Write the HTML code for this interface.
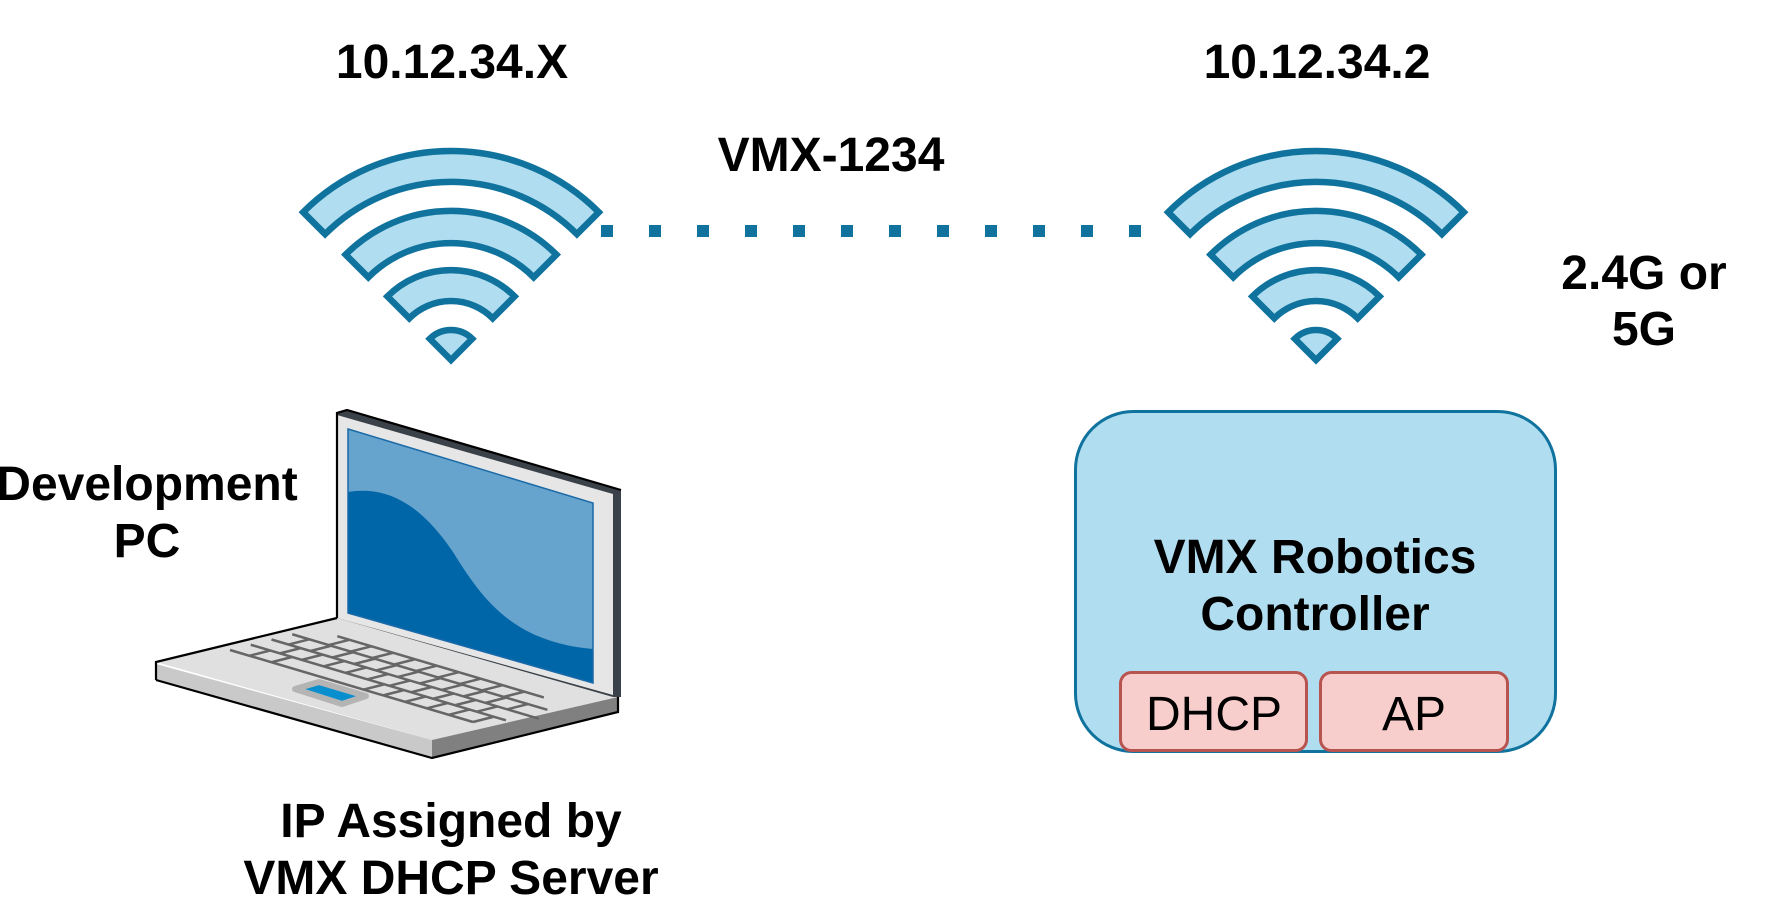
<!DOCTYPE html>
<html>
<head>
<meta charset="utf-8">
<style>
  html, body { margin: 0; padding: 0; background: #ffffff; }
  svg { display: block; }
  .t { font-family: "Liberation Sans", Arial, sans-serif; font-size: 48px; fill: #000; }
  .b { font-weight: bold; }
</style>
</head>
<body>
<svg width="1768" height="908" viewBox="0 0 1768 908" xmlns="http://www.w3.org/2000/svg">
  <rect x="0" y="0" width="1768" height="908" fill="#ffffff"/>

  <!-- Wifi icon (left) -->
  <g fill="#b1ddf0" stroke="#10739e" stroke-width="6.5" stroke-linejoin="miter">
    <path d="M 303.2 212.2 A 209 209 0 0 1 598.8 212.2 L 576.9 234.1 A 178 178 0 0 0 325.1 234.1 Z"/>
    <path d="M 345.6 254.6 A 149 149 0 0 1 556.4 254.6 L 533.7 277.3 A 117 117 0 0 0 368.3 277.3 Z"/>
    <path d="M 387.4 296.4 A 90 90 0 0 1 514.6 296.4 L 492.7 318.3 A 59 59 0 0 0 409.3 318.3 Z"/>
    <path d="M 451 360 L 429.8 338.8 A 30 30 0 0 1 472.2 338.8 Z"/>
  </g>
  <!-- Wifi icon (right) -->
  <g transform="translate(865,0)" fill="#b1ddf0" stroke="#10739e" stroke-width="6.5" stroke-linejoin="miter">
    <path d="M 303.2 212.2 A 209 209 0 0 1 598.8 212.2 L 576.9 234.1 A 178 178 0 0 0 325.1 234.1 Z"/>
    <path d="M 345.6 254.6 A 149 149 0 0 1 556.4 254.6 L 533.7 277.3 A 117 117 0 0 0 368.3 277.3 Z"/>
    <path d="M 387.4 296.4 A 90 90 0 0 1 514.6 296.4 L 492.7 318.3 A 59 59 0 0 0 409.3 318.3 Z"/>
    <path d="M 451 360 L 429.8 338.8 A 30 30 0 0 1 472.2 338.8 Z"/>
  </g>

  <!-- Dotted link -->
  <g fill="#10739e">
    <rect x="601" y="225" width="12" height="12"/>
    <rect x="649" y="225" width="12" height="12"/>
    <rect x="697" y="225" width="12" height="12"/>
    <rect x="745" y="225" width="12" height="12"/>
    <rect x="793" y="225" width="12" height="12"/>
    <rect x="841" y="225" width="12" height="12"/>
    <rect x="889" y="225" width="12" height="12"/>
    <rect x="937" y="225" width="12" height="12"/>
    <rect x="985" y="225" width="12" height="12"/>
    <rect x="1033" y="225" width="12" height="12"/>
    <rect x="1081" y="225" width="12" height="12"/>
    <rect x="1129" y="225" width="12" height="12"/>
  </g>

  <!-- Labels -->
  <text class="t b" x="452" y="78" text-anchor="middle">10.12.34.X</text>
  <text class="t b" x="1317" y="78" text-anchor="middle">10.12.34.2</text>
  <text class="t b" x="831" y="171" text-anchor="middle">VMX-1234</text>
  <text class="t b" x="1644" y="289" text-anchor="middle">2.4G or</text>
  <text class="t b" x="1644" y="345" text-anchor="middle">5G</text>
  <text class="t b" x="147" y="500" text-anchor="middle">Development</text>
  <text class="t b" x="147" y="557" text-anchor="middle">PC</text>
  <text class="t b" x="451" y="837" text-anchor="middle">IP Assigned by</text>
  <text class="t b" x="451" y="894" text-anchor="middle">VMX DHCP Server</text>

  <!-- Controller box -->
  <rect x="1075.5" y="411.5" width="480" height="340" rx="58" ry="58" fill="#b1ddf0" stroke="#10739e" stroke-width="3"/>
  <text class="t b" x="1315" y="573" text-anchor="middle">VMX Robotics</text>
  <text class="t b" x="1315" y="630" text-anchor="middle">Controller</text>
  <rect x="1120.5" y="672.5" width="186" height="78" rx="11" ry="11" fill="#f8cecc" stroke="#b85450" stroke-width="3"/>
  <rect x="1320.5" y="672.5" width="187" height="78" rx="11" ry="11" fill="#f8cecc" stroke="#b85450" stroke-width="3"/>
  <text class="t" x="1214" y="730" text-anchor="middle">DHCP</text>
  <text class="t" x="1414" y="730" text-anchor="middle">AP</text>

  <!-- Laptop -->
  <g>
    <!-- base -->
    <polygon points="156,662 337,618 618,697 432,740" fill="#e0e0e0"/>
    <polygon points="156,664 432,740 432,758 156,680" fill="#c9c9c9"/>
    <polygon points="432,740 618,697 618,712 432,758" fill="#808080"/>
    <path d="M156,680 L156,662 L337,618" fill="none" stroke="#000" stroke-width="2.2"/>
    <path d="M156,680 L432,758 L618,712 L618,697" fill="none" stroke="#000" stroke-width="2.2"/>
    <!-- lid -->
    <polygon points="337,413 347,410 621,490 621,697 613,697 337,618" fill="#3a4148"/>
    <polygon points="337,415 613,494 613,695 337,618" fill="#e6e6e6"/>
    <path d="M337,618 L337,413 L347,410 L621,490" fill="none" stroke="#000" stroke-width="2.2"/>
    <!-- screen -->
    <polygon points="348,429 593,503 593,683 348,613" fill="#67a4cd"/>
    <path d="M348,492 C 395,484 428,515 453,552 C 480,595 510,642 593,649 L593,683 L348,613 Z" fill="#0066a8"/>
    <polygon points="348,429 593,503 593,683 348,613" fill="none" stroke="#1a6aa8" stroke-width="1.5"/>
    <!-- keyboard -->
    <g transform="matrix(243,72,83,-21,230,650)" stroke="#666666" stroke-width="2.5" fill="none">
      <path vector-effect="non-scaling-stroke" d="M0,0 L1,0 M0,0.25 L1.05,0.25 M0,0.5 L1.1,0.5 M0,0.75 L1.05,0.75 M0.1,1 L0.95,1"/>
      <path vector-effect="non-scaling-stroke" d="
        M0.08,0 L0.08,0.25 M0.17,0 L0.17,0.25 M0.55,0 L0.55,0.25 M0.63,0 L0.63,0.25 M0.72,0 L0.72,0.25 M0.81,0 L0.81,0.25 M0.9,0 L0.9,0.25 M1,0 L1,0.25
        M0.12,0.25 L0.12,0.5 M0.21,0.25 L0.21,0.5 M0.3,0.25 L0.3,0.5 M0.39,0.25 L0.39,0.5 M0.48,0.25 L0.48,0.5 M0.57,0.25 L0.57,0.5 M0.66,0.25 L0.66,0.5 M0.75,0.25 L0.75,0.5 M0.84,0.25 L0.84,0.5 M0.93,0.25 L0.93,0.5
        M0.07,0.5 L0.07,0.75 M0.16,0.5 L0.16,0.75 M0.25,0.5 L0.25,0.75 M0.34,0.5 L0.34,0.75 M0.43,0.5 L0.43,0.75 M0.52,0.5 L0.52,0.75 M0.61,0.5 L0.61,0.75 M0.7,0.5 L0.7,0.75 M0.79,0.5 L0.79,0.75 M0.88,0.5 L0.88,0.75 M0.97,0.5 L0.97,0.75
        M0.15,0.75 L0.15,1 M0.24,0.75 L0.24,1 M0.33,0.75 L0.33,1 M0.42,0.75 L0.42,1 M0.51,0.75 L0.51,1 M0.6,0.75 L0.6,1 M0.69,0.75 L0.69,1 M0.78,0.75 L0.78,1 M0.87,0.75 L0.87,1
      "/>
    </g>
    <!-- touchpad -->
    <polygon points="295,689 319,682 366,696 342,704" fill="#0a8fce" stroke="#b4b4b4" stroke-width="6" stroke-linejoin="round"/>
  </g>
</svg>
</body>
</html>
